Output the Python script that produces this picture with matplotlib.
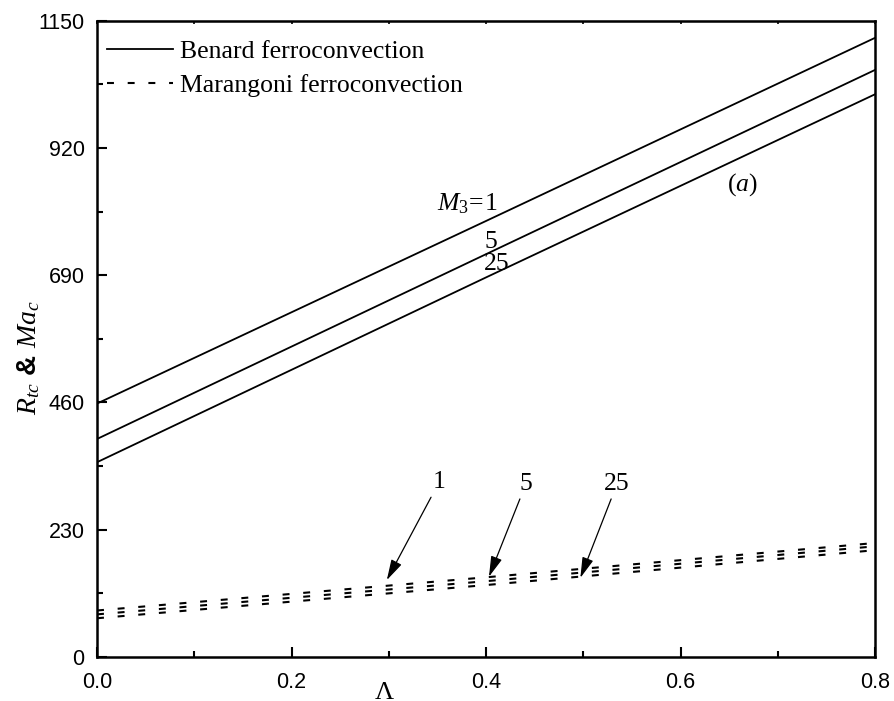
import matplotlib
matplotlib.use('Agg')
import matplotlib.pyplot as plt
from matplotlib.ticker import MultipleLocator

plt.rcParams['mathtext.fontset'] = 'custom'
plt.rcParams['mathtext.rm'] = 'Liberation Serif'
plt.rcParams['mathtext.it'] = 'Liberation Serif:italic'
plt.rcParams['mathtext.bf'] = 'Liberation Serif:bold'
plt.rcParams['lines.scale_dashes'] = False

# data
lam = [0.0, 0.4, 0.8]
rtc_m1 = [458, 788, 1119]
rtc_m5 = [394, 728, 1061]
rtc_m25 = [352, 686, 1017]
mac_m1 = [84, 144, 206]
mac_m5 = [77, 137, 200]
mac_m25 = [70, 130, 193]

serif = 'Liberation Serif'
sans = 'Liberation Sans'
fs = 18.5

fig = plt.figure(figsize=(8.95, 7.01), dpi=100)
ax = fig.add_axes([0.1084, 0.0628, 0.8693, 0.9077])

ax.plot(lam, rtc_m1, color='black', lw=1.3, label='Benard ferroconvection')
ax.plot(lam, rtc_m5, color='black', lw=1.3)
ax.plot(lam, rtc_m25, color='black', lw=1.3)

dash = (0, (5.0, 9.9))
ax.plot(lam, mac_m1, color='black', lw=1.5, ls=dash, label='Marangoni ferroconvection')
ax.plot(lam, mac_m5, color='black', lw=1.5, ls=dash)
ax.plot(lam, mac_m25, color='black', lw=1.5, ls=dash)

ax.set_xlim(0, 0.8)
ax.set_ylim(0, 1150)
ax.xaxis.set_major_locator(MultipleLocator(0.2))
ax.xaxis.set_minor_locator(MultipleLocator(0.1))
ax.yaxis.set_major_locator(MultipleLocator(230))
ax.yaxis.set_minor_locator(MultipleLocator(115))
ax.xaxis.set_major_formatter(plt.FormatStrFormatter('%.1f'))

ax.tick_params(axis='both', which='both', direction='in', width=1.5,
               labelsize=15.5, top=False, right=False)
ax.tick_params(axis='both', which='major', length=7)
ax.tick_params(axis='both', which='minor', length=4)
ax.tick_params(axis='x', pad=11)
ax.tick_params(axis='y', pad=9)
for lbl in ax.get_xticklabels() + ax.get_yticklabels():
    lbl.set_family(sans)
for s in ax.spines.values():
    s.set_linewidth(1.8)

# tiny ticks along the top edge
top = ax.secondary_xaxis('top')
top.xaxis.set_major_locator(MultipleLocator(0.1))
top.tick_params(direction='in', length=2.5, width=1.2, labeltop=False)

ax.set_xlabel(r'$\Lambda$', fontsize=19)
ax.xaxis.set_label_coords(0.37, -0.034)
ax.set_ylabel(r'$R_{tc}$ & $Ma_{c}$', fontsize=20, family=sans, fontweight='bold')
ax.yaxis.set_label_coords(-0.07, 0.47)

leg = ax.legend(loc='upper left', frameon=False, prop={'family': serif, 'size': fs},
                handlelength=2.55, handletextpad=0.3, labelspacing=0.43,
                borderaxespad=0, borderpad=0,
                bbox_to_anchor=(0.013, 0.97))

ax.text(0.3496, 808, r'$M_3\!=\!1$', fontsize=fs, ha='left', va='baseline')
ax.text(0.405, 739, '5', fontsize=fs, family=serif, ha='center', va='baseline')
ax.text(0.411, 699, '25', fontsize=fs, family=serif, ha='center', va='baseline')
ax.text(0.664, 853, r'$(a)$', fontsize=fs, ha='center', va='center')

arrow = dict(arrowstyle='-|>,head_length=0.9,head_width=0.25', color='black',
             lw=0.9, mutation_scale=14, shrinkA=1, shrinkB=0)
ax.annotate('1', xy=(0.298, 139), xytext=(0.3517, 305), fontsize=fs, family=serif,
            ha='center', va='baseline', arrowprops=arrow)
ax.annotate('5', xy=(0.403, 145), xytext=(0.441, 302), fontsize=fs, family=serif,
            ha='center', va='baseline', arrowprops=arrow)
ax.annotate('25', xy=(0.497, 143), xytext=(0.5347, 302), fontsize=fs, family=serif,
            ha='center', va='baseline', arrowprops=arrow)

fig.savefig('out.png', dpi=100)
